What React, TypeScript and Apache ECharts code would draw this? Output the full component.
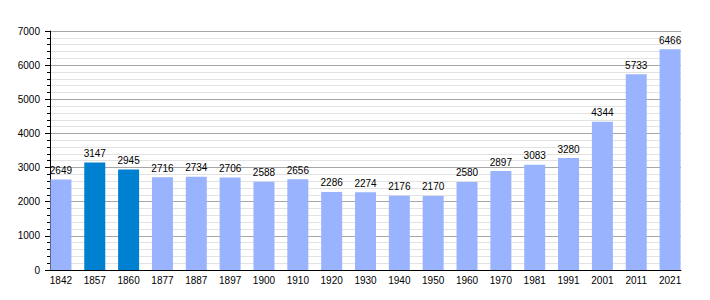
import React, { useEffect, useRef } from "react";
import * as echarts from "echarts";

const years = ["1842", "1857", "1860", "1877", "1887", "1897", "1900", "1910", "1920", "1930", "1940", "1950", "1960", "1970", "1981", "1991", "2001", "2011", "2021"];
const population = [2649, 3147, 2945, 2716, 2734, 2706, 2588, 2656, 2286, 2274, 2176, 2170, 2580, 2897, 3083, 3280, 4344, 5733, 6466];
const highlighted = ["1857", "1860"];
const yTicks = [0, 1000, 2000, 3000, 4000, 5000, 6000, 7000];

const FONT = "'Liberation Sans', Arial, sans-serif";

export default function App() {
  const ref = useRef<HTMLDivElement>(null);
  useEffect(() => {
    if (!ref.current) return;
    const chart = echarts.init(ref.current, null, { renderer: "svg" });
    const yMin = yTicks[0];
    const yMax = yTicks[yTicks.length - 1];
    const yInterval = yTicks[1] - yTicks[0];
    chart.setOption({
      animation: false,
      backgroundColor: "#ffffff",
      textStyle: { fontFamily: FONT },
      grid: [
        { left: 50, top: 31, width: 631, height: 239 },
        { left: 44, top: 31, width: 643, height: 239 },
      ],
      xAxis: [
        {
          gridIndex: 0,
          type: "category",
          data: years,
          axisLine: { show: true, lineStyle: { color: "#000", width: 1 } },
          axisTick: { show: false },
          axisLabel: { show: false },
          splitLine: { show: false },
        },
        {
          gridIndex: 1,
          type: "category",
          data: years,
          axisLine: { show: false },
          axisTick: { show: false },
          axisLabel: { show: true, fontSize: 10, color: "#000", margin: 5, fontFamily: FONT },
          splitLine: { show: false },
        },
      ],
      yAxis: [
        {
          gridIndex: 0,
          type: "value",
          min: yMin,
          max: yMax,
          interval: yInterval,
          axisLine: { show: true, lineStyle: { color: "#000", width: 1 } },
          axisTick: { show: true, length: 5, lineStyle: { color: "#000" } },
          minorTick: { show: true, splitNumber: 5, length: 3, lineStyle: { color: "#000" } },
          axisLabel: {
            fontSize: 10,
            color: "#000",
            margin: 10,
            fontFamily: FONT,
            formatter: (v: number) => String(v),
          },
          splitLine: { show: true, lineStyle: { color: "#a6a6a6", width: 1 } },
          minorSplitLine: { show: true, lineStyle: { color: "#e2e2e2", width: 1 } },
        },
        {
          gridIndex: 1,
          type: "value",
          min: yMin,
          max: yMax,
          interval: yInterval,
          show: false,
          splitLine: { show: false },
        },
      ],
      series: [
        {
          type: "bar",
          xAxisIndex: 1,
          yAxisIndex: 1,
          barWidth: 21,
          data: population.map((v, i) => ({
            value: v,
            itemStyle: { color: highlighted.includes(years[i]) ? "#0080d0" : "#99b3ff" },
          })),
          label: {
            show: true,
            position: "top",
            distance: 4,
            fontSize: 10,
            color: "#000",
            fontFamily: FONT,
          },
        },
      ],
    });
    return () => chart.dispose();
  }, []);
  return (
    <div
      ref={ref}
      style={{ position: "absolute", left: 0, top: 0, width: 710, height: 300 }}
    />
  );
}
